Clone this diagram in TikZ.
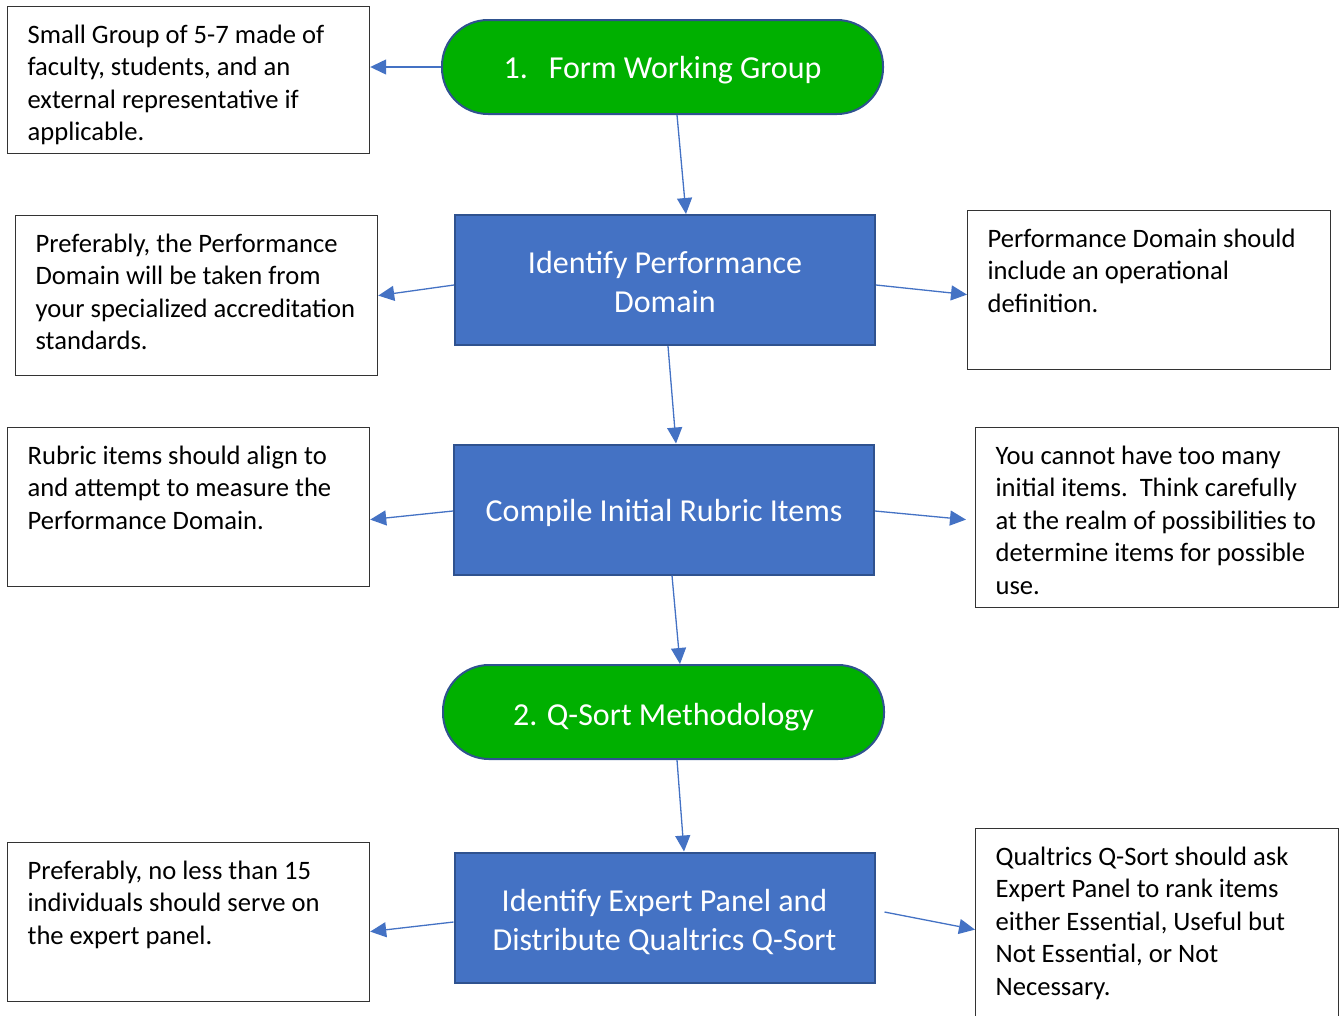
\documentclass[tikz,border=0pt]{standalone}
\usepackage{fontspec}
\setmainfont{Carlito}
\usetikzlibrary{arrows.meta}
\definecolor{wblue}{HTML}{4472C4}
\definecolor{wborder}{HTML}{2F528F}
\definecolor{wgreen}{HTML}{00B000}
\newcommand\notebody[3]{\parbox[c][#1pt][t]{#2pt}{\fontsize{26.6}{32.5}\selectfont\strut #3}}
\newcommand\lowered[2]{\raisebox{-#1pt}[\height][\depth]{\begin{tabular}{@{}c@{}}#2\end{tabular}}}
\tikzset{
  x=1pt, y=-1pt,
  terminal/.style={draw=wborder, line width=2pt, fill=wgreen, rectangle, rounded corners=46pt,
    minimum width=441pt, minimum height=94pt, text=white, font=\fontsize{32}{39}\selectfont},
  process/.style={draw=wborder, line width=2pt, fill=wblue, rectangle, minimum width=420pt,
    minimum height=130pt, text=white, align=center, font=\fontsize{32}{39}\selectfont},
  note/.style={draw=black!80, line width=1.2pt, rectangle, anchor=north west, inner xsep=20pt,
    inner ysep=14pt, align=left},
  arr/.style={draw=wblue, line width=1.3pt, -{Triangle[length=16pt,width=15pt]}},
}
\begin{document}
\begin{tikzpicture}
\useasboundingbox (0,0) rectangle (1341,1015);
% main flow
\node[terminal] (g1) at (662.5,67) {\lowered{4}{1.\hspace{21pt}Form Working Group}};
\node[process] (p1) at (665,280) {\lowered{5}{Identify Performance\\Domain}};
\node[process] (p2) at (664,509.5) {\lowered{4}{Compile Initial Rubric Items}};
\node[terminal] (g2) at (663.5,712) {\lowered{6}{2. Q-Sort Methodology}};
\node[process] (p3) at (664.5,917.5) {\lowered{6}{Identify Expert Panel and\\Distribute Qualtrics Q-Sort}};
% notes
\node[note] (b1) at (7,6) {\notebody{119}{322}{Small Group of 5-7 made of\\faculty, students, and an\\external representative if\\applicable.}};
\node[note] (l2) at (15,215) {\notebody{132}{322}{Preferably, the Performance\\Domain will be taken from\\your specialized accreditation\\standards.}};
\node[note] (r2) at (967,210) {\notebody{131}{323}{Performance Domain should\\include an operational\\definition.}};
\node[note] (l3) at (7,427) {\notebody{131}{322}{Rubric items should align to\\and attempt to measure the\\Performance Domain.}};
\node[note] (r3) at (975,427) {\notebody{152}{323}{You cannot have too many\\initial items.\ \ Think carefully\\at the realm of possibilities to\\determine items for possible\\use.}};
\node[note] (l4) at (7,842) {\notebody{131}{322}{Preferably, no less than 15\\individuals should serve on\\the expert panel.}};
\node[note] (r4) at (975,828) {\notebody{174}{323}{Qualtrics Q-Sort should ask\\Expert Panel to rank items\\either Essential, Useful but\\Not Essential, or Not\\Necessary.}};
% connectors
\draw[arr] (g1.west) -- (b1.east |- g1.west);
\draw[arr] ([xshift=14.5pt]g1.south) -- ([xshift=21pt]p1.north);
\draw[arr] ([yshift=-5pt]p1.west) -- ([yshift=0pt]l2.east);
\draw[arr] ([yshift=-5pt]p1.east) -- ([yshift=-4.5pt]r2.west);
\draw[arr] ([xshift=3pt]p1.south) -- ([xshift=12pt]p2.north);
\draw[arr] ([yshift=-1.5pt]p2.west) -- ([yshift=-12.5pt]l3.east);
\draw[arr] ([yshift=-1.5pt]p2.east) -- ([xshift=-9pt,yshift=-2pt]r3.west);
\draw[arr] ([xshift=8pt]p2.south) -- ([xshift=16.5pt]g2.north);
\draw[arr] ([xshift=13.5pt]g2.south) -- ([xshift=19.5pt]p3.north);
\draw[arr] ([yshift=-4.5pt]p3.west) -- ([yshift=-9.5pt]l4.east);
\draw[arr] ([xshift=9pt,yshift=5.5pt]p3.east) -- ([yshift=0pt]r4.west);
\end{tikzpicture}
\end{document}
